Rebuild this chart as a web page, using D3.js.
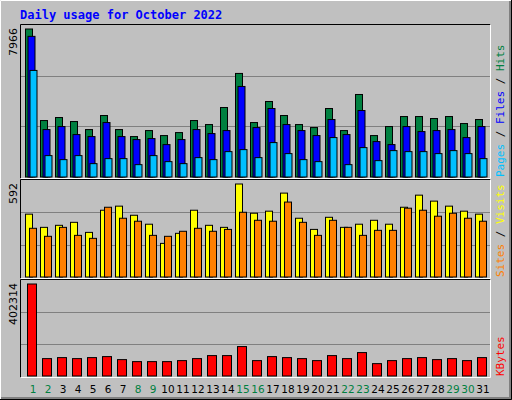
<!DOCTYPE html>
<html><head><meta charset="utf-8">
<script src="https://cdn.jsdelivr.net/npm/d3@7"></script>
<style>body{margin:0;background:#fff}svg{display:block}</style>
</head><body>
<script>
const days = d3.range(1, 32);
const weekend = [1, 2, 8, 9, 15, 16, 22, 23, 29, 30];
const hits = [7966,3039,3201,2985,2553,3309,2553,2176,2499,2230,2391,3039,2823,3740,5574,2931,4064,3309,2823,2661,3686,2499,4441,2230,2715,3254,3254,3147,3254,2877,3093];
const files = [7570,2553,2715,2284,2176,2931,2176,2014,2068,1744,2014,2553,2337,2499,4873,2661,3686,2823,2499,2230,3093,2284,3578,1906,1744,2715,2445,2499,2553,2122,2715];
const pages = [5736,1151,935,1151,719,989,989,665,1151,827,719,1043,935,1366,1474,1043,1852,1259,935,827,2122,665,1582,881,1420,1366,1366,1259,1420,1259,989];
const visits = [400,316,329,348,284,425,451,393,336,214,278,425,329,316,592,406,419,534,374,303,380,316,336,361,336,444,521,483,451,419,400];
const sites = [310,259,316,265,246,444,374,355,265,259,291,310,291,303,412,361,355,477,348,265,361,316,265,297,297,438,425,387,406,374,355];
const kbytes = [402314,76076,80465,76076,80465,84854,71687,62909,62909,62909,67298,76076,89243,89243,128744,67298,84854,80465,76076,67298,89243,76076,102410,54131,67298,76076,80465,71687,76076,67298,80465];

const svg = d3.select('body').append('svg').attr('width', 512).attr('height', 400);
svg.append('rect').attr('width', 512).attr('height', 400).attr('fill', '#c0c0c0');
// bevel
svg.append('path').attr('d', 'M0.5,399.5V0.5H511.5').attr('stroke', '#fff').attr('fill', 'none');
svg.append('path').attr('d', 'M1,398.5H510.5V1').attr('stroke', '#808080').attr('stroke-width', 3).attr('fill', 'none');
svg.append('path').attr('d', 'M0,399.5H511.5V0').attr('stroke', '#000').attr('fill', 'none');

svg.append('text').attr('x', 20).attr('y', 19)
  .attr('font-family', 'DejaVu Sans Mono').attr('font-weight', 'bold').attr('font-size', 12)
  .attr('fill', '#0000ff').text('Daily usage for October 2022');

const x = d3.scaleLinear().domain([1, 31]).range([25, 475]);
const L = 20.5, R = 490.5;

const panels = [
  { top: 25, bottom: 177, max: 7966,
    series: [[hits, '#008040', 0, 8], [files, '#0000ff', 2.5, 8], [pages, '#00c0ff', 4.5, 8]],
    labels: [['Pages', '#00c0ff'], [' / ', '#000'], ['Files', '#0000ff'], [' / ', '#000'], ['Hits', '#008040']] },
  { top: 180, bottom: 277, max: 592,
    series: [[visits, '#ffff00', 0, 8], [sites, '#ff8000', 4, 8]],
    labels: [['Sites', '#ff8000'], [' / ', '#000'], ['Visits', '#ffff00']] },
  { top: 280, bottom: 376, max: 402314,
    series: [[kbytes, '#ff0000', 2, 10]],
    labels: [['KBytes', '#ff0000']] }
];

panels.forEach(p => {
  const yTop = p.top + (p === panels[0] ? 4 : 4);
  const y = d3.scaleLinear().domain([0, p.max]).range([p.bottom, yTop]);
  const g = svg.append('g');
  const h = p.bottom - p.top;
  [1, 2].forEach(i => {
    g.append('line').attr('x1', L).attr('x2', R)
      .attr('y1', Math.round(p.bottom - h * i / 3) + 0.5).attr('y2', Math.round(p.bottom - h * i / 3) + 0.5)
      .attr('stroke', '#808080');
  });
  p.series.forEach(([vals, col, off, w]) => {
    g.selectAll(null).data(vals).join('rect')
      .attr('x', (d, i) => x(days[i]) + off + 0.5)
      .attr('y', d => y(d))
      .attr('width', w - 1)
      .attr('height', d => p.bottom - y(d))
      .attr('fill', col).attr('stroke', '#000');
  });
  // frame
  g.append('path').attr('d', `M${L},${p.bottom + 1.5}V${p.top - 0.5}H${R}`).attr('stroke', '#000').attr('fill', 'none');
  g.append('path').attr('d', `M${L},${p.bottom + 1.5}H${R}V${p.top - 0.5}`).attr('stroke', '#fff').attr('fill', 'none');
  g.append('text').attr('transform', `translate(17,${yTop - 1}) rotate(-90)`)
    .attr('text-anchor', 'end').attr('font-family', 'DejaVu Sans').attr('font-size', 11)
    .text(d3.format('d')(p.max));
  const t = g.append('text').attr('transform', `translate(504,${p.bottom}) rotate(-90)`)
    .attr('font-family', 'DejaVu Sans Mono').attr('font-size', 11).attr('xml:space', 'preserve');
  p.labels.forEach(([s, c]) => t.append('tspan').attr('fill', c).text(s));
});

svg.append('g').selectAll('text').data(days).join('text')
  .attr('x', d => x(d) + 8).attr('y', 393).attr('text-anchor', 'middle')
  .attr('font-family', 'DejaVu Sans').attr('font-size', 10.5)
  .attr('fill', d => weekend.includes(d) ? '#008040' : '#000')
  .text(d => d);
</script>
</body></html>
